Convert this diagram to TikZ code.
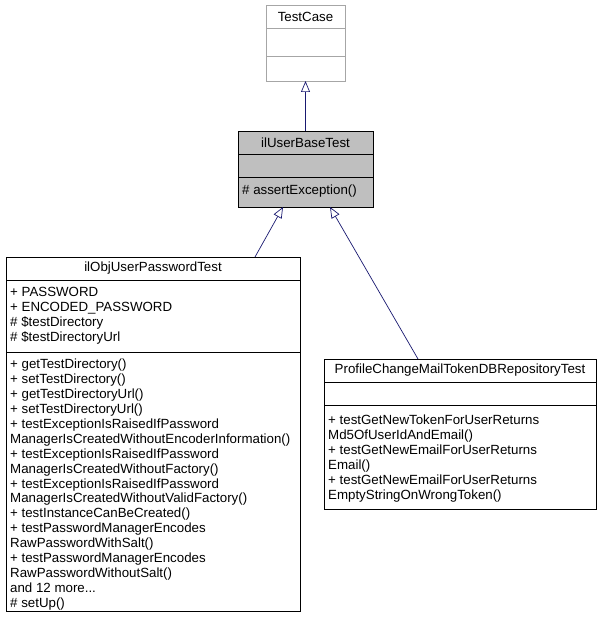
\documentclass[tikz,border=0pt]{standalone}
\usepackage{fontspec}
\setmainfont{Liberation Sans}
\usetikzlibrary{arrows.meta}
\begin{document}
\begin{tikzpicture}[x=1pt,y=-1pt,
  box/.style={draw=black,line width=0.7pt},
  ttl/.style={font=\fontsize{13.3}{15}\selectfont,anchor=center,inner sep=0pt},
  lst/.style={font=\fontsize{13.3}{14.9}\selectfont,anchor=north west,align=left,inner sep=0pt},
  inh/.style={draw={rgb,255:red,25;green,25;blue,112},line width=0.7pt,-{Triangle[open,length=11pt,width=9pt]}}]
\useasboundingbox (0,0) rectangle (602,617);
% TestCase
\draw[draw=gray!70,line width=0.7pt] (266,5) rectangle (345,81);
\draw[draw=gray!70,line width=0.7pt] (266,28) -- (345,28) (266,56) -- (345,56);
\node[ttl] (tc) at (305.5,16.5) {TestCase};
\coordinate (tcb) at (305.5,81);
% ilUserBaseTest
\fill[gray!50] (238,131) rectangle (373,207);
\draw[box] (238,131) rectangle (373,207);
\draw[box] (238,154) -- (373,154) (238,177) -- (373,177);
\node[ttl] (ub) at (305.5,142.5) {ilUserBaseTest};
\node[lst] (ubm) at (242,185) {\# assertException()};
\coordinate (ubt) at (305.5,131);
\coordinate (ubl) at (283,207);
\coordinate (ubr) at (330,207);
% ilObjUserPasswordTest
\draw[box] (6,257) rectangle (300,611);
\draw[box] (6,280) -- (300,280) (6,352) -- (300,352);
\node[ttl] (op) at (153,268.5) {ilObjUserPasswordTest};
\node[lst] (opa) at (10,287) {+ PASSWORD\\+ ENCODED\_PASSWORD\\\# \$testDirectory\\\# \$testDirectoryUrl};
\node[lst] (opm) at (10,359) {+ getTestDirectory()\\+ setTestDirectory()\\+ getTestDirectoryUrl()\\+ setTestDirectoryUrl()\\+ testExceptionIsRaisedIfPassword\\ManagerIsCreatedWithoutEncoderInformation()\\+ testExceptionIsRaisedIfPassword\\ManagerIsCreatedWithoutFactory()\\+ testExceptionIsRaisedIfPassword\\ManagerIsCreatedWithoutValidFactory()\\+ testInstanceCanBeCreated()\\+ testPasswordManagerEncodes\\RawPasswordWithSalt()\\+ testPasswordManagerEncodes\\RawPasswordWithoutSalt()\\and 12 more...\\\# setUp()};
\coordinate (opt) at (255,257);
% Profile
\draw[box] (324,359) rectangle (596,509);
\draw[box] (324,382) -- (596,382) (324,405) -- (596,405);
\node[ttl] (pc) at (460,370.5) {ProfileChangeMailTokenDBRepositoryTest};
\node[lst] (pcm) at (328,415) {+ testGetNewTokenForUserReturns\\Md5OfUserIdAndEmail()\\+ testGetNewEmailForUserReturns\\Email()\\+ testGetNewEmailForUserReturns\\EmptyStringOnWrongToken()};
\coordinate (pct) at (418,359);
% inheritance
\draw[inh] (ubt) -- (tcb);
\draw[inh] (opt) -- (ubl);
\draw[inh] (pct) -- (ubr);
\end{tikzpicture}
\end{document}
